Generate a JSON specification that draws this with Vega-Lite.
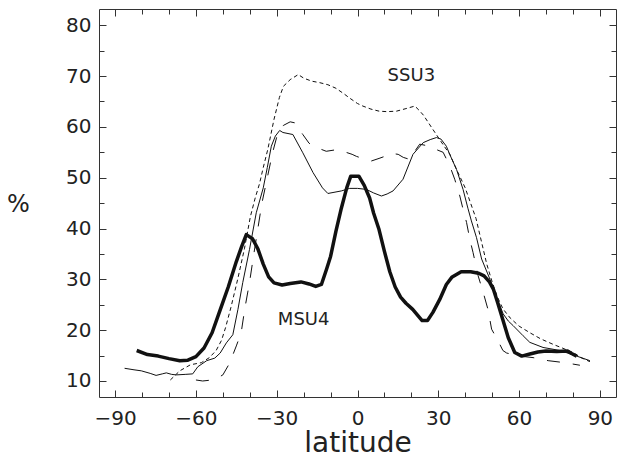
{
  "$schema": "https://vega.github.io/schema/vega-lite/v6.json",
  "autosize": "none",
  "width": 517,
  "height": 388,
  "padding": {"left": 99, "top": 9, "right": 11, "bottom": 62},
  "background": "white",
  "config": {"view": {"stroke": null}},
  "datasets": {
    "msu4": [
      {"lat": -82, "val": 16.0}, {"lat": -78, "val": 15.2}, {"lat": -74, "val": 14.9}, {"lat": -70, "val": 14.4},
      {"lat": -66, "val": 14.0}, {"lat": -63, "val": 14.1}, {"lat": -60, "val": 14.8}, {"lat": -57, "val": 16.5},
      {"lat": -54, "val": 19.5}, {"lat": -51, "val": 24.0}, {"lat": -48, "val": 28.5}, {"lat": -45, "val": 33.5},
      {"lat": -43, "val": 36.5}, {"lat": -41.3, "val": 38.8}, {"lat": -39, "val": 38.0}, {"lat": -37, "val": 36.0},
      {"lat": -35, "val": 33.0}, {"lat": -33, "val": 30.5}, {"lat": -31, "val": 29.3}, {"lat": -28, "val": 28.9},
      {"lat": -25, "val": 29.2}, {"lat": -21, "val": 29.5}, {"lat": -18, "val": 29.1}, {"lat": -15.5, "val": 28.6},
      {"lat": -13.4, "val": 29.0}, {"lat": -11.5, "val": 32.0}, {"lat": -10, "val": 34.5}, {"lat": -8, "val": 39.5},
      {"lat": -6, "val": 44.0}, {"lat": -4, "val": 48.0}, {"lat": -2.5, "val": 50.3}, {"lat": 0.5, "val": 50.3},
      {"lat": 2.5, "val": 48.5}, {"lat": 4.5, "val": 46.0}, {"lat": 6, "val": 43.0}, {"lat": 8, "val": 39.8},
      {"lat": 10, "val": 35.5}, {"lat": 12, "val": 31.5}, {"lat": 14, "val": 28.5}, {"lat": 16, "val": 26.5},
      {"lat": 18, "val": 25.3}, {"lat": 20.5, "val": 24.1}, {"lat": 24, "val": 21.9}, {"lat": 26, "val": 21.9},
      {"lat": 28, "val": 23.5}, {"lat": 30.5, "val": 26.0}, {"lat": 33, "val": 29.0}, {"lat": 35, "val": 30.4},
      {"lat": 38.5, "val": 31.5}, {"lat": 42, "val": 31.5}, {"lat": 45, "val": 31.2}, {"lat": 47, "val": 30.7},
      {"lat": 49, "val": 29.5}, {"lat": 50.5, "val": 28.0}, {"lat": 52, "val": 25.5}, {"lat": 54, "val": 22.0},
      {"lat": 56, "val": 18.5}, {"lat": 58.4, "val": 15.6}, {"lat": 61, "val": 14.9}, {"lat": 64, "val": 15.3},
      {"lat": 67, "val": 15.7}, {"lat": 70, "val": 15.9}, {"lat": 74, "val": 15.8}, {"lat": 78, "val": 15.9},
      {"lat": 79.5, "val": 15.4}, {"lat": 81.4, "val": 14.9}
    ],
    "ssu3": [
      {"lat": -69.5, "val": 10.2}, {"lat": -66, "val": 12.0}, {"lat": -62, "val": 13.2}, {"lat": -58, "val": 13.6},
      {"lat": -55, "val": 14.6}, {"lat": -52.5, "val": 16.0}, {"lat": -50.5, "val": 18.0}, {"lat": -49, "val": 20.5},
      {"lat": -47, "val": 24.5}, {"lat": -44.5, "val": 30.0}, {"lat": -42, "val": 36.0}, {"lat": -39.8, "val": 42.3},
      {"lat": -38, "val": 46.0}, {"lat": -36.4, "val": 48.8}, {"lat": -35, "val": 52.0}, {"lat": -33.3, "val": 55.6},
      {"lat": -31, "val": 61.5}, {"lat": -29, "val": 65.8}, {"lat": -27.5, "val": 68.0}, {"lat": -25, "val": 69.3},
      {"lat": -22, "val": 70.3}, {"lat": -20, "val": 69.6}, {"lat": -17, "val": 69.0}, {"lat": -14, "val": 68.7},
      {"lat": -11, "val": 68.3}, {"lat": -8, "val": 67.6}, {"lat": -5, "val": 66.5}, {"lat": -3, "val": 65.7},
      {"lat": 0, "val": 64.6}, {"lat": 2, "val": 64.1}, {"lat": 5, "val": 63.5}, {"lat": 8, "val": 63.1},
      {"lat": 11, "val": 63.0}, {"lat": 14.5, "val": 63.1}, {"lat": 18, "val": 63.6}, {"lat": 21.3, "val": 64.1},
      {"lat": 23, "val": 63.2}, {"lat": 24.5, "val": 62.3}, {"lat": 28, "val": 59.5}, {"lat": 31.8, "val": 56.5},
      {"lat": 34.3, "val": 54.6}, {"lat": 36.8, "val": 51.6}, {"lat": 40, "val": 48.0}, {"lat": 42, "val": 45.0},
      {"lat": 44, "val": 42.0}, {"lat": 46, "val": 37.5}, {"lat": 48, "val": 33.0}, {"lat": 50, "val": 29.5},
      {"lat": 52, "val": 26.5}, {"lat": 54, "val": 24.2}, {"lat": 56.7, "val": 22.4}, {"lat": 60, "val": 20.8},
      {"lat": 64, "val": 19.5}, {"lat": 68, "val": 18.3}, {"lat": 72.7, "val": 17.2}, {"lat": 76, "val": 16.5},
      {"lat": 80, "val": 15.6}, {"lat": 83, "val": 14.6}, {"lat": 86.3, "val": 13.8}
    ],
    "thin": [
      {"lat": -86.5, "val": 12.5}, {"lat": -83, "val": 12.2}, {"lat": -80.3, "val": 12.0}, {"lat": -77, "val": 11.5},
      {"lat": -74.8, "val": 11.1}, {"lat": -72.5, "val": 11.4}, {"lat": -71, "val": 11.6}, {"lat": -69, "val": 11.3},
      {"lat": -67.3, "val": 11.2}, {"lat": -64, "val": 11.3}, {"lat": -61.2, "val": 11.4}, {"lat": -59.3, "val": 12.8},
      {"lat": -56, "val": 14.0}, {"lat": -53, "val": 14.5}, {"lat": -51, "val": 15.5}, {"lat": -48.7, "val": 17.5},
      {"lat": -46.3, "val": 19.1}, {"lat": -44.4, "val": 24.1}, {"lat": -42.6, "val": 29.4}, {"lat": -40.1, "val": 35.9},
      {"lat": -37.6, "val": 43.1}, {"lat": -35, "val": 48.0}, {"lat": -33.5, "val": 52.0}, {"lat": -32, "val": 56.2},
      {"lat": -30.5, "val": 58.2}, {"lat": -28.9, "val": 59.3}, {"lat": -27.7, "val": 58.9}, {"lat": -24, "val": 58.5},
      {"lat": -20.3, "val": 54.9}, {"lat": -16.5, "val": 51.0}, {"lat": -13, "val": 48.0}, {"lat": -11, "val": 46.9},
      {"lat": -6, "val": 47.4}, {"lat": -2.9, "val": 47.9}, {"lat": 0, "val": 47.9}, {"lat": 3.3, "val": 47.7},
      {"lat": 6, "val": 47.0}, {"lat": 8.9, "val": 46.4}, {"lat": 11, "val": 46.8}, {"lat": 13.2, "val": 47.4},
      {"lat": 16.9, "val": 49.7}, {"lat": 20.6, "val": 54.6}, {"lat": 24.4, "val": 56.9}, {"lat": 27, "val": 57.5},
      {"lat": 29.3, "val": 57.9}, {"lat": 31, "val": 57.6}, {"lat": 33, "val": 56.2}, {"lat": 34.5, "val": 54.3},
      {"lat": 36.8, "val": 51.6}, {"lat": 39.2, "val": 47.7}, {"lat": 41, "val": 44.0}, {"lat": 42.3, "val": 41.5},
      {"lat": 44.2, "val": 38.2}, {"lat": 46.1, "val": 34.0}, {"lat": 49.2, "val": 30.0}, {"lat": 52, "val": 26.0},
      {"lat": 54.1, "val": 23.2}, {"lat": 56, "val": 21.8}, {"lat": 57.8, "val": 20.9}, {"lat": 61.5, "val": 18.9},
      {"lat": 64, "val": 17.6}, {"lat": 68.9, "val": 16.6}, {"lat": 75.2, "val": 16.0}, {"lat": 81.4, "val": 14.9},
      {"lat": 86.3, "val": 14.0}
    ],
    "longdash": [
      {"lat": -60, "val": 10.2}, {"lat": -57.5, "val": 10.0}, {"lat": -54, "val": 10.2}, {"lat": -52, "val": 10.6},
      {"lat": -50, "val": 11.2}, {"lat": -47.5, "val": 13.5}, {"lat": -45, "val": 16.9}, {"lat": -43.2, "val": 19.5},
      {"lat": -41.9, "val": 24.1}, {"lat": -40.1, "val": 29.4}, {"lat": -38.5, "val": 35.0}, {"lat": -37, "val": 40.0},
      {"lat": -35.5, "val": 45.0}, {"lat": -33.5, "val": 50.0}, {"lat": -31.5, "val": 55.0}, {"lat": -30, "val": 58.0},
      {"lat": -27.5, "val": 60.3}, {"lat": -25, "val": 61.0}, {"lat": -23.3, "val": 60.8}, {"lat": -20.3, "val": 58.5},
      {"lat": -18, "val": 56.8}, {"lat": -16.5, "val": 56.2}, {"lat": -11.6, "val": 55.2}, {"lat": -8, "val": 55.5},
      {"lat": -5.4, "val": 55.2}, {"lat": -2, "val": 54.6}, {"lat": -0.4, "val": 54.2}, {"lat": 3, "val": 53.6},
      {"lat": 5.2, "val": 53.3}, {"lat": 8, "val": 53.8}, {"lat": 10.1, "val": 54.2}, {"lat": 12.5, "val": 54.8},
      {"lat": 15.1, "val": 54.6}, {"lat": 17, "val": 54.0}, {"lat": 19.4, "val": 53.6}, {"lat": 21, "val": 55.0},
      {"lat": 23.1, "val": 56.6}, {"lat": 26.8, "val": 56.2}, {"lat": 29, "val": 55.6}, {"lat": 31.8, "val": 55.0},
      {"lat": 34.3, "val": 52.3}, {"lat": 36.1, "val": 49.7}, {"lat": 38, "val": 46.4}, {"lat": 39.2, "val": 43.8},
      {"lat": 40.5, "val": 41.2}, {"lat": 41.7, "val": 37.9}, {"lat": 42.9, "val": 35.3}, {"lat": 44.8, "val": 30.7},
      {"lat": 46.7, "val": 27.4}, {"lat": 48.5, "val": 24.0}, {"lat": 49.8, "val": 20.2}, {"lat": 52.2, "val": 17.9},
      {"lat": 54, "val": 16.0}, {"lat": 55.4, "val": 15.5}, {"lat": 60.3, "val": 14.9}, {"lat": 65.2, "val": 14.6},
      {"lat": 70.8, "val": 14.0}, {"lat": 77, "val": 13.6}, {"lat": 82.6, "val": 13.1}
    ],
    "labels": [
      {"lat": 20, "val": 70, "label": "SSU3"},
      {"lat": -20, "val": 22, "label": "MSU4"}
    ]
  },
  "layer": [
    {
      "encoding": {
        "x": {
          "field": "lat", "type": "quantitative",
          "scale": {"domain": [-96, 96], "nice": false, "zero": false},
          "axis": {
            "values": [-90, -80, -70, -60, -50, -40, -30, -20, -10, 0, 10, 20, 30, 40, 50, 60, 70, 80, 90],
            "labelExpr": "datum.value % 30 === 0 ? datum.label : ''",
            "labelOverlap": false, "labelFlush": false,
            "grid": false,
            "tickSize": {"condition": {"test": "datum.value % 30 === 0", "value": -7}, "value": -5},
            "tickColor": "#333", "domainColor": "#333",
            "labelFont": "DejaVu Sans", "labelFontSize": 20, "labelColor": "#222", "labelPadding": 18,
            "title": "latitude", "titleFont": "DejaVu Sans", "titleFontSize": 28, "titleFontWeight": "normal",
            "titleColor": "#222", "titleBaseline": "alphabetic", "titleAlign": "center", "titleY": 54
          }
        },
        "y": {
          "field": "val", "type": "quantitative",
          "scale": {"domain": [6.85, 83.2], "nice": false, "zero": false},
          "axis": {
            "values": [10, 15, 20, 25, 30, 35, 40, 45, 50, 55, 60, 65, 70, 75, 80],
            "labelExpr": "datum.value % 10 === 0 ? datum.label : ''",
            "labelOverlap": false, "labelFlush": false,
            "grid": false,
            "tickSize": {"condition": {"test": "datum.value % 10 === 0", "value": -7}, "value": -5},
            "tickColor": "#333", "domainColor": "#333",
            "labelFont": "DejaVu Sans", "labelFontSize": 20, "labelColor": "#222", "labelPadding": 15,
            "title": "%", "titleFont": "DejaVu Sans", "titleFontSize": 24, "titleFontWeight": "normal",
            "titleColor": "#222", "titleAngle": 0, "titleAlign": "center", "titleBaseline": "middle",
            "titleX": -81, "titleY": 195
          }
        }
      },
      "layer": [
        {"data": {"name": "thin"}, "mark": {"type": "line", "color": "#111", "strokeWidth": 1}},
        {"data": {"name": "ssu3"}, "mark": {"type": "line", "color": "#111", "strokeWidth": 1, "strokeDash": [4, 3]}},
        {"data": {"name": "longdash"}, "mark": {"type": "line", "color": "#111", "strokeWidth": 1, "strokeDash": [13, 13]}},
        {"data": {"name": "msu4"}, "mark": {"type": "line", "color": "#111", "strokeWidth": 3.5, "strokeJoin": "round"}},
        {"data": {"name": "labels"}, "mark": {"type": "text", "font": "DejaVu Sans", "fontSize": 18, "color": "#222", "align": "center", "baseline": "middle"},
         "encoding": {"text": {"field": "label"}}}
      ]
    },
    {
      "data": {"name": "msu4"},
      "mark": {"type": "line", "strokeOpacity": 0},
      "encoding": {
        "x": {
          "field": "lat", "type": "quantitative",
          "axis": {
            "orient": "top", "labels": false, "title": null, "grid": false,
            "values": [-90, -80, -70, -60, -50, -40, -30, -20, -10, 0, 10, 20, 30, 40, 50, 60, 70, 80, 90],
            "tickSize": {"condition": {"test": "datum.value % 30 === 0", "value": -7}, "value": -5},
            "tickColor": "#333", "domainColor": "#333"
          }
        },
        "y": {
          "field": "val", "type": "quantitative",
          "axis": {
            "orient": "right", "labels": false, "title": null, "grid": false,
            "values": [10, 15, 20, 25, 30, 35, 40, 45, 50, 55, 60, 65, 70, 75, 80],
            "tickSize": {"condition": {"test": "datum.value % 10 === 0", "value": -7}, "value": -5},
            "tickColor": "#333", "domainColor": "#333"
          }
        }
      }
    }
  ],
  "resolve": {"axis": {"x": "independent", "y": "independent"}}
}
